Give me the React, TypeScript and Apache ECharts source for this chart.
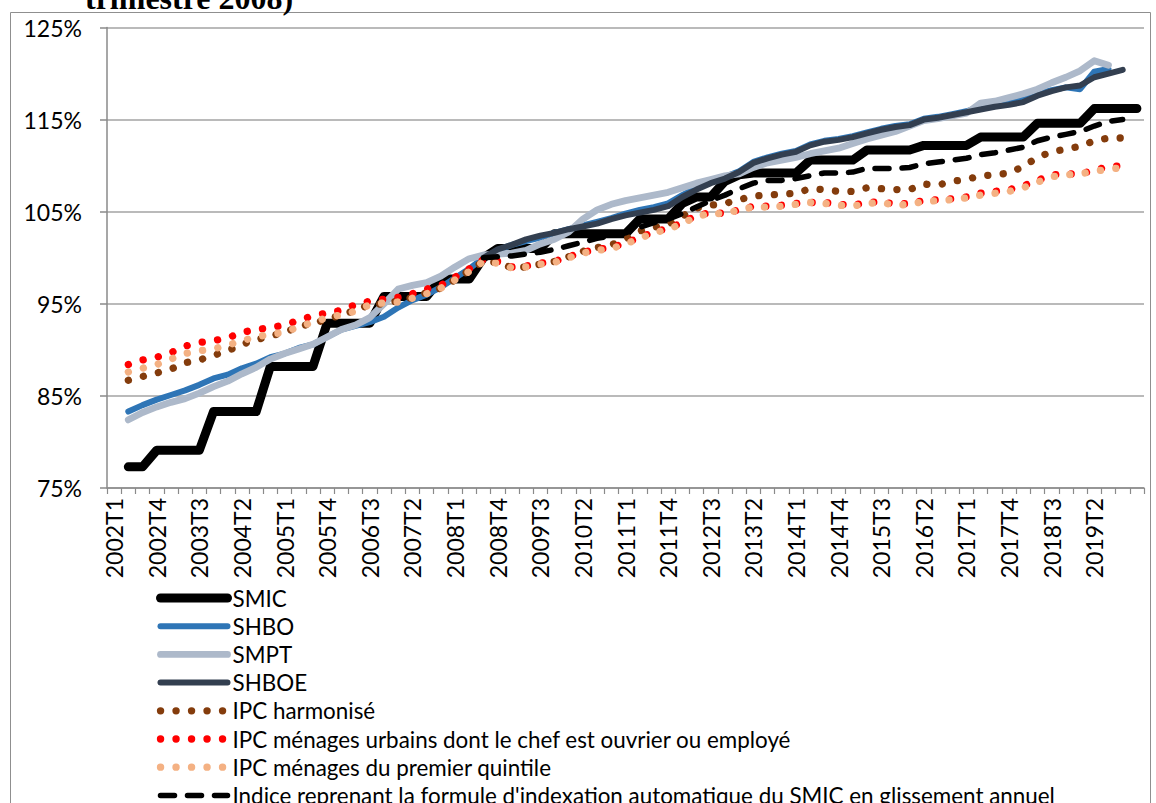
import { useEffect, useRef } from "react";
import * as echarts from "echarts";

const quarters: string[] = [
  "2002T1", "2002T2", "2002T3", "2002T4", "2003T1", "2003T2", "2003T3", "2003T4",
  "2004T1", "2004T2", "2004T3", "2004T4", "2005T1", "2005T2", "2005T3", "2005T4",
  "2006T1", "2006T2", "2006T3", "2006T4", "2007T1", "2007T2", "2007T3", "2007T4",
  "2008T1", "2008T2", "2008T3", "2008T4", "2009T1", "2009T2", "2009T3", "2009T4",
  "2010T1", "2010T2", "2010T3", "2010T4", "2011T1", "2011T2", "2011T3", "2011T4",
  "2012T1", "2012T2", "2012T3", "2012T4", "2013T1", "2013T2", "2013T3", "2013T4",
  "2014T1", "2014T2", "2014T3", "2014T4", "2015T1", "2015T2", "2015T3", "2015T4",
  "2016T1", "2016T2", "2016T3", "2016T4", "2017T1", "2017T2", "2017T3", "2017T4",
  "2018T1", "2018T2", "2018T3", "2018T4", "2019T1", "2019T2", "2019T3", "2019T4",
  "2020T1",
];

const yTicks = [75, 125, 10]; // min, max, step

const smic = [
  null,
  77.3, 77.3,
  79.1, 79.1, 79.1, 79.1,
  83.3, 83.3, 83.3, 83.3,
  88.2, 88.2, 88.2, 88.2,
  92.9, 92.9, 92.9, 92.9,
  95.8, 95.8, 95.8, 95.8,
  97.7, 97.7, 97.7,
  100.0,
  101.0, 101.0, 101.0, 101.0,
  102.6, 102.6, 102.6, 102.6, 102.6, 102.6,
  104.2, 104.2, 104.2,
  105.9,
  106.6, 106.6,
  108.3,
  109.0,
  109.2, 109.2, 109.2, 109.2,
  110.6, 110.6, 110.6, 110.6,
  111.7, 111.7, 111.7, 111.7,
  112.2, 112.2, 112.2, 112.2,
  113.1, 113.1, 113.1, 113.1,
  114.6, 114.6, 114.6, 114.6,
  116.2, 116.2, 116.2, 116.2,
];

const shbo = [
  null,
  83.3, 84.0, 84.6, 85.1, 85.6, 86.2, 86.9, 87.3, 88.0, 88.5,
  89.2, 89.6, 90.2, 90.6, 91.4, 92.2, 92.6, 93.0, 93.6, 94.6,
  95.4, 96.0, 96.8, 97.8, 98.8, 100.0, 100.8, 101.4, 101.8, 102.2,
  102.7, 103.1, 103.5, 103.9, 104.3, 104.8, 105.2, 105.5, 105.9, 106.8,
  107.6, 108.3, 108.8, 109.4, 110.4, 110.9, 111.3, 111.6, 112.3, 112.7,
  112.9, 113.2, 113.6, 114.0, 114.3, 114.5, 115.1, 115.3, 115.6, 115.9,
  116.4, 116.7, 116.9, 117.2, 117.8, 118.2, 118.5, 118.3, 120.2, 120.5,
  null, null,
];

const smpt = [
  null,
  82.4, 83.2, 83.8, 84.3, 84.7, 85.3, 86.0, 86.6, 87.4, 88.1,
  89.0, 89.6, 90.1, 90.6, 91.4, 92.2, 92.7, 93.5, 95.0, 96.6,
  97.0, 97.3, 98.0, 99.0, 99.9, 100.3, 100.4, 100.5, 100.8, 101.5,
  102.0, 102.8, 104.2, 105.2, 105.8, 106.2, 106.5, 106.8, 107.1, 107.6,
  108.1, 108.5, 108.9, 109.1, 109.8, 110.3, 110.6, 110.9, 111.3, 111.6,
  111.9, 112.4, 112.9, 113.3, 113.7, 114.3, 114.9, 115.1, 115.4, 115.7,
  116.8, 117.0, 117.4, 117.8, 118.3, 119.0, 119.6, 120.3, 121.4, 120.9,
  null, null,
];

const shboe = [
  null, null, null, null, null, null, null, null, null, null,
  null, null, null, null, null, null, null, null, null, null,
  null, null, null, null, null, null,
  100.0, 100.9, 101.4, 102.0, 102.4,
  102.7, 103.1, 103.4, 103.7, 104.2, 104.6, 104.9, 105.2, 105.6, 106.6,
  107.4, 108.1, 108.6, 109.3, 110.3, 110.8, 111.2, 111.5, 112.2, 112.6,
  112.8, 113.1, 113.5, 113.9, 114.2, 114.4, 115.0, 115.2, 115.5, 115.8,
  116.1, 116.4, 116.6, 116.9, 117.6, 118.1, 118.5, 118.7, 119.6, 120.0,
  120.4, null,
];

const ipcHarmonise = [
  null,
  86.7, 87.1, 87.5, 87.9, 88.6, 88.9, 89.4, 89.9, 90.6, 91.1,
  91.5, 91.9, 92.5, 92.9, 93.3, 93.8, 94.3, 94.9, 95.0, 95.3,
  95.7, 96.2, 96.7, 97.6, 98.6, 99.6, 99.5, 98.9, 99.0, 99.3,
  99.6, 100.1, 100.7, 101.1, 101.4, 102.0, 102.9, 103.3, 103.6, 104.5,
  105.4, 105.7, 105.9, 106.3, 106.7, 106.8, 106.9, 107.0, 107.5, 107.4,
  107.2, 107.2, 107.6, 107.5, 107.4, 107.4, 108.0, 107.9, 108.3, 108.5,
  108.9, 109.0, 109.2, 109.9, 110.9, 111.5, 111.8, 112.1, 112.7, 113.0,
  113.0, null,
];

const ipcUrbains = [
  null,
  88.4, 88.9, 89.2, 89.7, 90.4, 90.8, 91.0, 91.3, 91.9, 92.2,
  92.4, 92.7, 93.2, 93.7, 94.0, 94.3, 94.9, 95.3, 95.5, 95.7,
  96.1, 96.6, 97.0, 97.9, 98.8, 99.8, 99.6, 99.0, 99.1, 99.4,
  99.6, 100.1, 100.6, 100.9, 101.1, 101.6, 102.2, 102.8, 103.2, 103.8,
  104.6, 104.9, 104.8, 105.2, 105.6, 105.6, 105.7, 105.9, 106.0, 106.0,
  105.8, 105.7, 106.0, 106.1, 105.8, 105.9, 106.2, 106.3, 106.4, 106.6,
  107.0, 107.2, 107.4, 107.8, 108.4, 109.0, 109.1, 109.1, 109.5, 109.9,
  110.0, null,
];

const ipcQuintile = [
  null,
  87.6, 88.0, 88.4, 89.0, 89.6, 89.9, 90.1, 90.5, 91.0, 91.4,
  91.7, 91.9, 92.5, 93.0, 93.5, 93.8, 94.2, 94.9, 95.1, 95.2,
  95.6, 96.1, 96.7, 97.6, 98.5, 99.6, 99.4, 98.9, 99.0, 99.3,
  99.5, 100.0, 100.5, 100.8, 101.0, 101.5, 102.1, 102.7, 103.1, 103.7,
  104.5, 104.8, 104.8, 105.2, 105.5, 105.5, 105.6, 105.8, 106.0, 105.9,
  105.7, 105.6, 105.9, 106.0, 105.7, 105.8, 106.1, 106.2, 106.3, 106.5,
  106.8, 107.0, 107.2, 107.6, 108.2, 108.8, 109.0, 109.1, 109.4, 109.6,
  109.8, null,
];

const indiceIndexation = [
  null, null, null, null, null, null, null, null, null, null,
  null, null, null, null, null, null, null, null, null, null,
  null, null, null, null, null, null,
  100.0, 100.1, 100.2, 100.4, 100.6,
  100.9, 101.3, 101.7, 102.1, 102.4, 102.7, 103.3, 103.8, 104.2, 104.8,
  105.5, 106.2, 106.8, 107.5, 108.1, 108.4, 108.4, 108.6, 108.9, 109.2,
  109.2, 109.3, 109.7, 109.7, 109.7, 109.8, 110.2, 110.4, 110.6, 110.8,
  111.2, 111.4, 111.7, 112.0, 112.7, 113.1, 113.4, 113.7, 114.3, 114.8,
  115.0, null,
];

const seriesNames = [
  "SMIC",
  "SHBO",
  "SMPT",
  "SHBOE",
  "IPC harmonisé",
  "IPC ménages urbains dont le chef est ouvrier ou employé",
  "IPC ménages du premier quintile",
  "Indice reprenant la formule d'indexation automatique du SMIC en glissement annuel",
];

const FONT = "Lato";
const GRID_COLOR = "#a3a3a3";
const LAST_LABELLED = 69;

export default function App() {
  const ref = useRef<HTMLDivElement>(null);

  useEffect(() => {
    if (!ref.current) return;
    const chart = echarts.init(ref.current, null, { renderer: "svg" });

    const base = (name: string, data: any[], color: string) => ({
      name,
      type: "line",
      data,
      symbol: "none",
      showSymbol: false,
      silent: true,
      emphasis: { disabled: true },
      itemStyle: { color },
    });
    const solid = (name: string, data: any[], color: string, width: number) => ({
      ...base(name, data, color),
      lineStyle: { color, width, cap: "round", join: "round" },
    });
    const dotted = (name: string, data: any[], color: string) => ({
      ...base(name, data, color),
      lineStyle: { color, width: 7.3, type: [0.1, 15.4], cap: "round", join: "round" },
    });

    chart.setOption({
      animation: false,
      backgroundColor: "#ffffff",
      textStyle: { fontFamily: FONT },
      graphic: [
        {
          type: "rect",
          z: -10,
          shape: { x: 10.5, y: 12.5, width: 1140, height: 900 },
          style: { fill: "none", stroke: "#8f8f8f", lineWidth: 1 },
        },
        {
          type: "text",
          x: 85,
          y: -2,
          style: {
            text: "trimestre 2008)",
            font: 'bold 32px "Liberation Serif"',
            fill: "#000000",
            verticalAlign: "middle",
            textVerticalAlign: "middle",
          },
        },
      ],
      grid: { left: 107, right: 12, top: 27.5, bottom: 315, containLabel: false },
      xAxis: {
        type: "category",
        data: quarters,
        boundaryGap: true,
        axisLine: { show: true, lineStyle: { color: "#8a8a8a", width: 1.5 } },
        axisTick: { show: true, interval: 0, length: 6, lineStyle: { color: "#8a8a8a", width: 1.2 } },
        axisLabel: {
          interval: (index: number) => index % 3 === 0 && index <= LAST_LABELLED,
          rotate: 90,
          margin: 10,
          fontSize: 23,
          color: "#000000",
          fontFamily: FONT,
        },
        splitLine: { show: false },
      },
      yAxis: {
        type: "value",
        min: yTicks[0],
        max: yTicks[1],
        interval: yTicks[2],
        axisLine: { show: true, lineStyle: { color: "#8a8a8a", width: 1.5 } },
        axisTick: { show: true, length: 7, lineStyle: { color: "#8a8a8a", width: 1.5 } },
        axisLabel: {
          margin: 25,
          fontSize: 23,
          color: "#000000",
          fontFamily: FONT,
          formatter: (v: number) => `${v}%`,
        },
        splitLine: { show: true, lineStyle: { color: GRID_COLOR, width: 1.5 } },
      },
      legend: {
        orient: "vertical",
        left: 156,
        top: 586.5,
        height: 260,
        itemWidth: 67,
        itemHeight: 14,
        itemGap: 5.2,
        selectedMode: false,
        padding: 0,
        data: seriesNames,
        itemStyle: { color: "transparent", borderWidth: 0, opacity: 0 },
        lineStyle: { width: "inherit" },
        textStyle: { fontSize: 22.4, lineHeight: 23, color: "#000000", fontFamily: FONT },
      },
      series: [
        solid(seriesNames[0], smic, "#000000", 9),
        solid(seriesNames[1], shbo, "#2e75b6", 6),
        solid(seriesNames[2], smpt, "#adb9ca", 6.8),
        solid(seriesNames[3], shboe, "#333f50", 6),
        dotted(seriesNames[4], ipcHarmonise, "#843c0c"),
        dotted(seriesNames[5], ipcUrbains, "#ff0000"),
        dotted(seriesNames[6], ipcQuintile, "#f4b183"),
        {
          ...base(seriesNames[7], indiceIndexation, "#000000"),
          lineStyle: { color: "#000000", width: 5.5, type: [14, 13], cap: "round", join: "round" },
        },
      ],
    });

    return () => chart.dispose();
  }, []);

  return (
    <div
      ref={ref}
      style={{ position: "fixed", left: 0, top: 0, width: 1156, height: 803, background: "#ffffff" }}
    />
  );
}
